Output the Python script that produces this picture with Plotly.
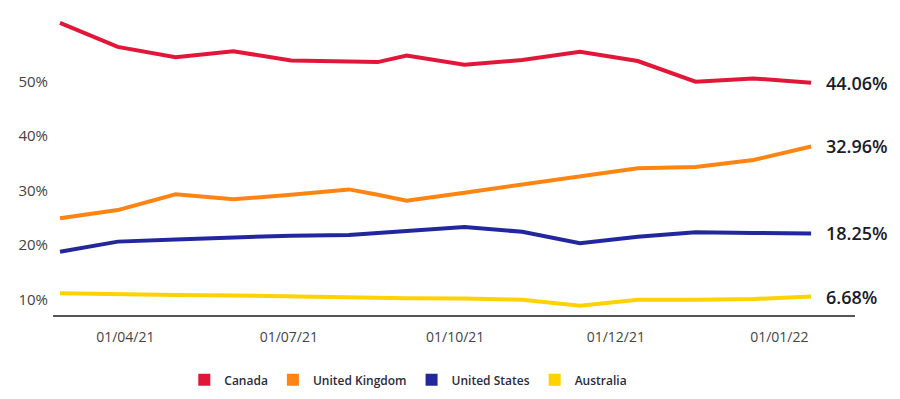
import plotly.graph_objects as go

# Shared x positions (period index; 5.5 is an intermediate observation)
period = [0, 1, 2, 3, 4, 5, 5.5, 6, 7, 8, 9, 10, 11, 12, 13]

canada = [60.8, 56.4, 54.5, 55.6, 53.9, 53.8, 53.6, 54.8, 53.1, 54.0, 55.5, 53.8, 50.0, 50.6, 49.8]
united_kingdom = [24.9, 26.4, 29.3, 28.4, 29.2, 30.2, 29.2, 28.1, 29.6, 31.1, 32.6, 34.1, 34.3, 35.6, 38.1]
united_states = [18.75, 20.6, 21.0, 21.4, 21.7, 21.8, 22.2, 22.6, 23.3, 22.4, 20.3, 21.5, 22.3, 22.2, 22.1]
australia = [11.1, 10.9, 10.8, 10.7, 10.5, 10.3, 10.3, 10.2, 10.15, 9.9, 8.8, 9.9, 9.9, 10.05, 10.5]

series_names = ["Canada", "United Kingdom", "United States", "Australia"]
series_values = [canada, united_kingdom, united_states, australia]
end_labels = ["44.06%", "32.96%", "18.25%", "6.68%"]
colors = ["#E1173A", "#FF8412", "#23279E", "#FFD200"]

y_tick_vals = [10, 20, 30, 40, 50]
y_tick_text = ["10%", "20%", "30%", "40%", "50%"]
x_tick_vals = [1.13, 3.96, 6.84, 9.62, 12.45]
x_tick_text = ["01/04/21", "01/07/21", "01/10/21", "01/12/21", "01/01/22"]

FONT = "Open Sans"

fig = go.Figure()
for name, vals, col in zip(series_names, series_values, colors):
    fig.add_trace(go.Scatter(
        x=period, y=vals, mode="lines", name=name,
        line=dict(color=col, width=4), showlegend=False, hoverinfo="skip",
    ))
# legend entries as squares
for name, col in zip(series_names, colors):
    fig.add_trace(go.Scatter(
        x=[None], y=[None], mode="markers", name=name,
        marker=dict(symbol="square", size=12, color=col), showlegend=True,
    ))

for vals, lab in zip(series_values, end_labels):
    fig.add_annotation(
        x=period[-1], y=vals[-1], text=lab, showarrow=False,
        xanchor="left", yanchor="middle", xshift=13,
        font=dict(family=FONT, size=18, color="#1B1B2B", weight=600),
    )

fig.update_layout(
    width=900, height=399,
    margin=dict(l=53, r=45, t=10, b=84, autoexpand=False),
    paper_bgcolor="white", plot_bgcolor="white",
    font=dict(family=FONT, color="#444444"),
    hovermode=False,
    xaxis=dict(
        range=[-0.121, 13.76], tickvals=x_tick_vals, ticktext=x_tick_text,
        showgrid=False, zeroline=False, showline=True, linecolor="#555555", linewidth=1.5,
        ticks="", tickfont=dict(size=14, color="#444444", weight=500), ticklabelstandoff=8,
        automargin=False,
    ),
    yaxis=dict(
        range=[7.11, 63.18], tickvals=y_tick_vals, ticktext=y_tick_text,
        showgrid=False, zeroline=False, showline=False,
        ticks="", tickfont=dict(size=15, color="#444444", weight=500), ticklabelstandoff=4,
        automargin=False,
    ),
    legend=dict(
        orientation="h", x=0.443, xanchor="center", y=-0.165, yanchor="top",
        font=dict(family=FONT, size=12, color="#2B2B3B", weight=600), itemclick=False,
        itemwidth=30,
    ),
)

fig.write_html(
    "out.html",
    config={"displayModeBar": False},
    post_script="document.body.style.margin='0';document.body.style.padding='0';",
)
